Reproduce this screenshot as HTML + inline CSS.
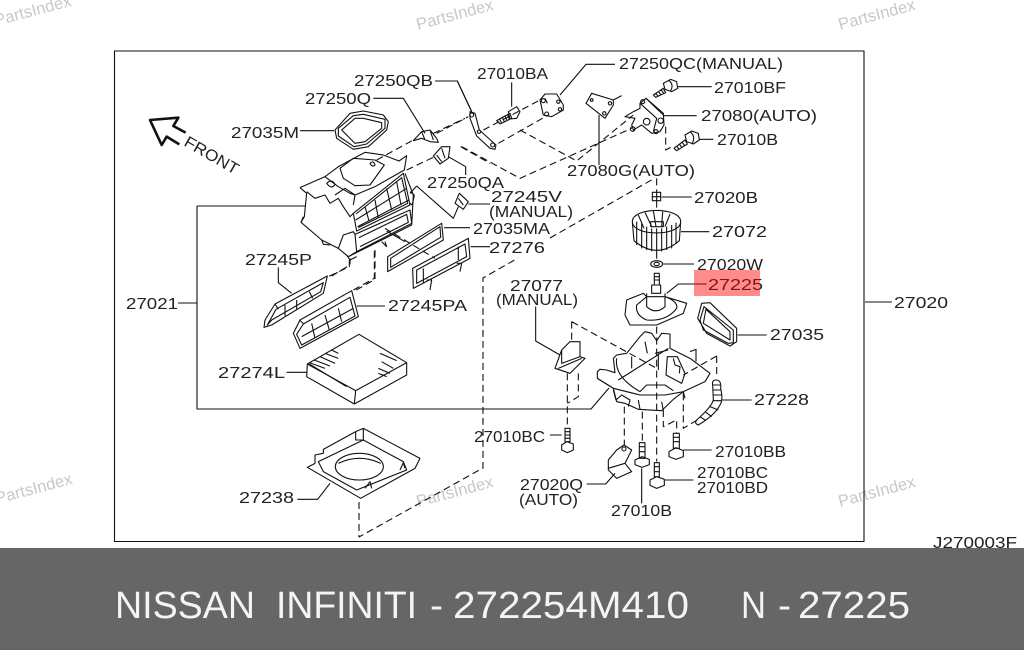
<!DOCTYPE html>
<html><head><meta charset="utf-8"><style>
html,body{margin:0;padding:0;width:1024px;height:650px;overflow:hidden;background:#fff}
svg{display:block}
.d *{fill:none;stroke:#111;stroke-width:1.1;vector-effect:non-scaling-stroke;stroke-linejoin:round}
.d .k{stroke-dasharray:7 4}
.t text{font:16px "Liberation Sans",sans-serif;fill:#222}
.m text{font:16.5px "Liberation Sans",sans-serif;fill:#c8c8c8}
.b text{font:38px "Liberation Sans",sans-serif;fill:#f4f4f4}
</style></head><body>
<svg width="1024" height="650" viewBox="0 0 1024 650" xmlns="http://www.w3.org/2000/svg">
<g class="m">
<text transform="translate(-4,26) rotate(-15)">PartsIndex</text>
<text transform="translate(418,30) rotate(-15)">PartsIndex</text>
<text transform="translate(840,30) rotate(-15)">PartsIndex</text>
<text transform="translate(-3,504) rotate(-15)">PartsIndex</text>
<text transform="translate(418,507) rotate(-15)">PartsIndex</text>
<text transform="translate(840,507) rotate(-15)">PartsIndex</text>
</g>
<g class="d">
<rect x="114.5" y="51" width="749.5" height="490.5"/>
<path d="M197 206H305M197 206V409H591L609 388M178 303H197M865 302H892"/>
<path class="k" d="M359 502V537L483 468V278L518 258M550 238L655 178"/>
</g>
<!-- zoom 1 region -->
<g class="d" transform="translate(120,50) scale(.33333)">
<path style="stroke-width:2.6" d="M197 248L160 228L175 203L90 210L125 285L140 260L178 283"/>
<path d="M540 242H642M760 145H850L915 250M945 93H1012L1055 185"/>
<path d="M645 240L690 190L730 183L790 195L805 215L800 240L745 290L700 298L650 265Z"/>
<path d="M665 240L705 205L730 205L785 218L785 235L735 275L705 280Z"/>
<path d="M655 235L700 197L730 193L795 208L795 235L740 282L702 290L655 258Z"/>
<path class="k" d="M770 330L880 270M950 250L1045 200M860 360L940 322M1022 290L1110 340"/>
<path d="M880 272L905 245L930 240L950 265L955 277L930 275L905 265Z M905 245L915 270M930 240L940 270"/>
<path d="M940 318L965 290L990 290L985 325L960 342ZM950 315L965 335M965 295L975 325M985 320L1037 350V375"/>
<path d="M890 408L870 430M890 408L1000 505L1015 470M1005 460L1018 430L1045 455L1030 478ZM1015 445L1030 465M1045 462H1110"/>
<path d="M803 620L965 520L970 570L803 665ZM812 625L960 530L962 562L812 652ZM972 533H1050"/>
<path d="M878 655L1045 565L1050 625L880 715ZM890 660L1035 582L1040 620L890 700ZM910 655V700M1015 590V630M1052 590H1110M920 690L935 690L930 720M1010 640L1025 640L1020 665"/>
<path class="k" d="M795 535L945 625M688 630V650L625 680M765 600V688L700 725"/>
</g>
<!-- main unit -->
<g class="d" transform="translate(295,145) scale(.33333)">
<path d="M15 128L90 95L130 65L210 22L265 30L312 48L335 32L328 75L240 125L180 150L165 145L130 125L90 95"/>
<path d="M15 128L35 145L28 215L18 232L80 285L130 310L160 335L350 240L355 150L330 85"/>
<path d="M135 70L175 40L240 45L268 60L225 120L180 122L145 100ZM225 55Q235 45 240 60Q232 68 225 55Z"/>
<path d="M35 140L60 160L90 150L105 175L130 160L145 185L165 215L175 205M95 115Q110 100 120 118Q110 135 95 115ZM120 150L150 130L180 150L175 180"/>
<path d="M175 205L325 85L345 180L185 258ZM183 207L320 98L338 175L190 248M210 185L222 228M240 165L250 220M275 130L290 195M305 110L318 180M182 225L335 130M188 245L342 165"/>
<path d="M180 268L345 195L350 235L185 320ZM192 278L335 208L340 232L195 305M185 320L160 335M130 310L145 270L175 260L180 268M345 140L358 150L352 180L345 175M18 232L25 215M80 285L85 298L105 300M260 290L275 305L270 290M155 330L165 345L185 335"/>
<path d="M275 258L330 290"/>
</g>
<!-- zoom 2 region -->
<g class="d" transform="translate(420,50) scale(.33333)">
<path d="M45 93H112L155 185M150 185L165 190L178 240L228 285L225 298L210 295L170 258L150 205Z"/>
<circle cx="155" cy="195" r="6"/><circle cx="177" cy="245" r="5"/><circle cx="218" cy="285" r="6"/>
<path class="k" d="M40 250L135 205M125 290L300 385L635 235M190 240L360 150M235 280L385 195M300 240L470 333L640 195"/>
<path d="M275 97V170M230 212L270 190L275 205L240 222ZM238 205L245 220M246 200L253 215M254 196L261 211M262 192L268 207M265 185L290 170L300 185L290 205L270 207Z"/>
<path d="M360 150L375 132L410 132L430 165L430 180L395 200L370 195ZM375 145L382 160M585 43H498L420 135"/>
<circle cx="370" cy="152" r="6"/><circle cx="415" cy="155" r="5"/><circle cx="380" cy="192" r="6"/><circle cx="420" cy="178" r="5"/>
<path d="M498 160L515 130L580 150L580 165L555 205ZM537 195V345M580 150L605 137"/>
<circle cx="515" cy="150" r="4"/><circle cx="570" cy="160" r="5"/><circle cx="553" cy="190" r="5"/>
<path d="M697 427H722V452H697ZM697 440H722M710 427V452M725 441H815"/>
<path class="k" d="M710 385V427M710 452V480M710 605V630"/>
<path d="M637 515C637 470 782 470 782 515C782 560 637 560 637 515ZM637 515L642 572Q710 630 778 572L782 515"/>
<path d="M650 515V585M665 520V595M680 530V600M695 535V604M710 535V605M725 535V604M740 530V600M755 525V595M768 518V582M655 495L672 535M675 487L695 530M700 482L708 530M728 485L725 530M750 492L735 530M692 530H730V515H692ZM783 545H868"/>
<ellipse cx="710" cy="642" rx="18" ry="10"/><ellipse cx="710" cy="642" rx="8" ry="5"/>
<path d="M730 642H822"/>
</g>
<!-- actuator -->
<g class="d" transform="translate(600,70) scale(.33333)">
<path d="M120 100L138 85L190 130L192 165L180 185L155 190L125 165L100 180L95 165L105 145L75 140L100 125L120 115Z"/>
<path d="M138 85L190 135M120 100L170 145L160 185M192 137H290"/>
<circle cx="128" cy="95" r="6"/><circle cx="140" cy="155" r="10"/><circle cx="182" cy="152" r="8"/><circle cx="168" cy="185" r="6"/><circle cx="98" cy="177" r="7"/>
<path d="M160 75L190 55L197 68L167 82ZM168 70L175 80M176 65L183 75M184 60L191 70"/>
<path d="M190 40L212 28L230 35L233 55L215 65L195 58ZM208 32Q222 45 212 62M233 50H335"/>
<path d="M222 235L255 210L262 222L230 242ZM230 228L237 238M238 222L245 232M246 216L253 226"/>
<path d="M255 195L275 183L295 190L298 210L280 222L260 215ZM272 187Q287 200 277 220M298 208H340"/>
<path class="k" d="M197 170V240L220 228"/>
</g>
<!-- zoom 3 region -->
<g class="d" transform="translate(190,240) scale(.33333)">
<path d="M265 82V128L305 160M222 262L225 240L255 192L412 108L400 160L245 255ZM232 255L258 208L400 128L392 155L245 240ZM255 192L265 208M285 195L285 228M320 180L320 208M358 155L368 175"/>
<path class="k" d="M425 108L480 75V55M490 150L553 115V30"/>
<path d="M310 280L330 240L485 152L505 230L330 325ZM320 283L340 252L480 172L495 228L335 315ZM328 240L342 252M365 250L375 295M405 225L418 270M445 205L455 245M335 290L490 205M500 198H585"/>
<path d="M352 372L507 283L650 368L497 452ZM352 372L350 410L493 492L650 405V368M497 452L493 492M290 397H350"/>
<path d="M358 368L405 385M372 360L420 378M390 350L435 370M405 340L445 355M425 330L445 340M570 340L620 362M575 365L610 385M565 385L600 400M565 400L590 410M358 372L470 440"/>
<path d="M352 682L375 670V645L400 640V628L497 575L520 565L690 655L675 685L512 775ZM385 665L520 600L640 665L650 690L500 750L400 695ZM497 575V600L520 600V565"/>
<ellipse cx="508" cy="680" rx="72" ry="40"/>
<path d="M445 670Q508 640 572 670M322 778H383L420 730M525 745L540 725L545 745M630 690L640 668L645 685"/>
</g>
<!-- zoom 4 region -->
<g class="d" transform="translate(470,260) scale(.33333)">
<path d="M553 40H568V75H553ZM553 50H568M553 60H568M545 75H572V100H545Z"/>
<path d="M470 120L520 100L530 110L585 110L650 130L640 160L560 195L480 195L465 165ZM530 100V140Q557 165 585 140V100M500 135Q530 110 530 110M585 110Q625 125 620 145Q590 185 530 180Q495 165 500 135"/>
<path d="M590 100L625 72H710"/>
<path d="M683 175L695 130L720 128L800 205L800 245L780 258L710 220ZM700 190L708 148L780 215L780 240ZM690 180L702 140L790 210L790 248L775 250L700 210ZM803 225H890"/>
<path class="k" d="M305 185V250M305 185L560 325M292 340V500M325 340V410L292 430M740 288L640 345M740 288V350M463 440V555M517 455V548M560 200V605M580 450V500L620 480V520M640 400V505L690 475"/>
<path d="M738 360Q725 360 728 375L730 420Q725 440 680 480Q672 490 685 495Q735 465 750 435Q760 420 752 385Q755 360 738 360ZM727 375H752M728 390H754M729 405H755M728 422H755M720 440L745 450M705 455L725 470M690 470L705 480M755 420H845"/>
<path d="M275 270L300 245L330 245L330 290L345 295L300 340L255 325ZM275 270V310L330 290M265 325L335 295M197 140V243L270 285"/>
<path d="M285 505H300V545H285ZM285 515H300M285 525H300M285 535H300M275 555L290 545L310 552V570L292 578L275 570ZM240 525H275"/>
<path d="M610 520H628V565H610ZM610 532H628M610 545H628M597 575L618 563L640 572V590L618 598L597 590ZM640 570H725"/>
<path d="M508 548H525V595H508ZM508 560H525M508 575H525M495 600L516 590L538 598V614L516 622L495 614ZM515 625V730"/>
<path d="M553 608H568V650H553ZM553 620H568M553 635H568M540 660L560 650L583 658V676L560 685L540 676ZM585 660H670"/>
<path d="M415 600L440 570L462 555L485 570L465 610L485 635L440 655L415 630ZM350 672H407L435 640M415 625L465 610"/>
<circle cx="462" cy="567" r="6"/>
</g>
<!-- blower case -->
<g class="d" transform="translate(590,320) scale(.33333)">
<path d="M22 175V155L30 148L50 150L75 158L70 115L80 105L110 100L150 50L165 35L185 40L200 62L215 40L240 42V85L300 115L360 160L345 185L280 215L250 238L215 272L145 268L105 250L80 245L70 205Z"/>
<path d="M22 175L70 205L150 225L225 225L280 215M80 115Q72 170 150 215L170 195L225 195L250 212M85 180L235 85M195 100L235 90M125 110V145M165 65L172 100M205 100V150"/>
<path d="M232 110L228 165L275 190L285 160L262 110ZM250 115L255 135L270 140L268 160M300 95L318 88V125M70 210L78 240L95 225L120 240L115 260M145 240L150 268M215 245L220 272M280 215L285 235"/>
</g>
<g class="t">
<text x="354" y="86" textLength="79" lengthAdjust="spacingAndGlyphs">27250QB</text>
<text x="305" y="104" textLength="66" lengthAdjust="spacingAndGlyphs">27250Q</text>
<text x="231" y="138" textLength="68" lengthAdjust="spacingAndGlyphs">27035M</text>
<text x="477" y="79" textLength="71" lengthAdjust="spacingAndGlyphs">27010BA</text>
<text x="619" y="69" textLength="164" lengthAdjust="spacingAndGlyphs">27250QC(MANUAL)</text>
<text x="714" y="93" textLength="72" lengthAdjust="spacingAndGlyphs">27010BF</text>
<text x="701" y="121" textLength="116" lengthAdjust="spacingAndGlyphs">27080(AUTO)</text>
<text x="717" y="145" textLength="61" lengthAdjust="spacingAndGlyphs">27010B</text>
<text x="567" y="176" textLength="128" lengthAdjust="spacingAndGlyphs">27080G(AUTO)</text>
<text x="427" y="188" textLength="77" lengthAdjust="spacingAndGlyphs">27250QA</text>
<text x="491" y="202" textLength="71" lengthAdjust="spacingAndGlyphs">27245V</text>
<text x="489" y="217" textLength="84" lengthAdjust="spacingAndGlyphs">(MANUAL)</text>
<text x="473" y="234" textLength="77" lengthAdjust="spacingAndGlyphs">27035MA</text>
<text x="489" y="253" textLength="56" lengthAdjust="spacingAndGlyphs">27276</text>
<text x="694" y="203" textLength="64" lengthAdjust="spacingAndGlyphs">27020B</text>
<text x="712" y="237" textLength="55" lengthAdjust="spacingAndGlyphs">27072</text>
<text x="697" y="270" textLength="66" lengthAdjust="spacingAndGlyphs">27020W</text>
<text x="708" y="290" textLength="55" lengthAdjust="spacingAndGlyphs">27225</text>
<text x="245" y="265" textLength="67" lengthAdjust="spacingAndGlyphs">27245P</text>
<text x="388" y="311" textLength="79" lengthAdjust="spacingAndGlyphs">27245PA</text>
<text x="218" y="378" textLength="67" lengthAdjust="spacingAndGlyphs">27274L</text>
<text x="239" y="503" textLength="55" lengthAdjust="spacingAndGlyphs">27238</text>
<text x="126" y="309" textLength="52" lengthAdjust="spacingAndGlyphs">27021</text>
<text x="894" y="308" textLength="54" lengthAdjust="spacingAndGlyphs">27020</text>
<text x="770" y="340" textLength="54" lengthAdjust="spacingAndGlyphs">27035</text>
<text x="754" y="405" textLength="55" lengthAdjust="spacingAndGlyphs">27228</text>
<text x="510" y="291" textLength="53" lengthAdjust="spacingAndGlyphs">27077</text>
<text x="496" y="305" textLength="82" lengthAdjust="spacingAndGlyphs">(MANUAL)</text>
<text x="474" y="442" textLength="71" lengthAdjust="spacingAndGlyphs">27010BC</text>
<text x="715" y="457" textLength="71" lengthAdjust="spacingAndGlyphs">27010BB</text>
<text x="697" y="478" textLength="71" lengthAdjust="spacingAndGlyphs">27010BC</text>
<text x="697" y="493" textLength="71" lengthAdjust="spacingAndGlyphs">27010BD</text>
<text x="520" y="490" textLength="63" lengthAdjust="spacingAndGlyphs">27020Q</text>
<text x="519" y="505" textLength="59" lengthAdjust="spacingAndGlyphs">(AUTO)</text>
<text x="611" y="516" textLength="61" lengthAdjust="spacingAndGlyphs">27010B</text>
<text x="933" y="548" textLength="84" lengthAdjust="spacingAndGlyphs">J270003F</text>
<text transform="translate(183,145) rotate(30)" textLength="60" lengthAdjust="spacingAndGlyphs">FRONT</text>
</g>
<rect x="694" y="270" width="66" height="26" fill="#ff0000" fill-opacity=".45"/>
<rect x="0" y="548" width="1024" height="102" fill="#666"/>
<g class="b">
<text x="115" y="618" textLength="140" lengthAdjust="spacingAndGlyphs">NISSAN</text>
<text x="276" y="618" textLength="141" lengthAdjust="spacingAndGlyphs">INFINITI</text>
<text x="430" y="618" textLength="13" lengthAdjust="spacingAndGlyphs">-</text>
<text x="453" y="618" textLength="236" lengthAdjust="spacingAndGlyphs">272254M410</text>
<text x="741" y="618" textLength="25" lengthAdjust="spacingAndGlyphs">N</text>
<text x="778" y="618" textLength="13" lengthAdjust="spacingAndGlyphs">-</text>
<text x="798" y="618" textLength="112" lengthAdjust="spacingAndGlyphs">27225</text>
</g>
</svg>
</body></html>
